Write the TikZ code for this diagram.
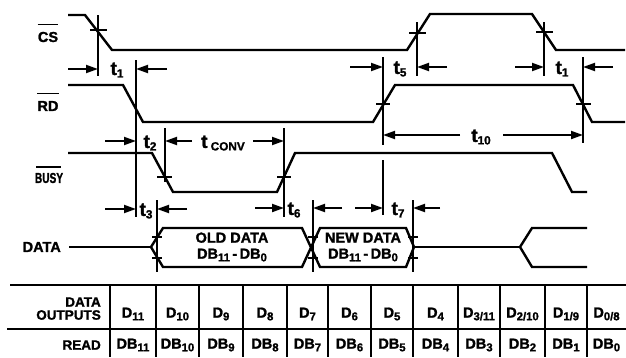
\documentclass[tikz,border=0pt]{standalone}
\usepackage{fontspec}
\setmainfont{Liberation Sans}[BoldFeatures={FakeBold=1.5}]
\usetikzlibrary{arrows.meta}
\newcommand{\sbs}[1]{\raisebox{-0.35ex}{\scalebox{0.78}{#1}}}
\newcommand{\tsb}[1]{\raisebox{-0.25ex}{\scalebox{0.62}{#1}}}
\begin{document}
\begin{tikzpicture}[x=1pt,y=-1pt,
  sig/.style={line width=2.4pt},
  tick/.style={line width=1.3pt},
  dim/.style={line width=1.9pt,-{Triangle[length=12pt,width=8pt]}},
  lbl/.style={font=\fontsize{14.5}{14.5}\selectfont\bfseries,inner sep=0pt},
  tlbl/.style={font=\fontsize{19}{19}\selectfont\bfseries,inner sep=0pt},
  dlbl/.style={font=\fontsize{14.5}{16}\selectfont\bfseries,inner sep=0pt,align=center},
  cell/.style={font=\fontsize{14.5}{14.5}\selectfont\bfseries,inner sep=0pt},
  rowl/.style={font=\fontsize{13.5}{13.5}\selectfont\bfseries,inner sep=0pt,anchor=east},
  tab/.style={line width=1.7pt}]
\useasboundingbox (0,0) rectangle (626,357);

% ---- signal labels ----
\node[lbl] (cs) at (48,37) {CS};
\node[lbl] (rd) at (48,106) {RD};
\node[lbl,xscale=0.7] (busy) at (49,178) {BUSY};
\node[lbl,anchor=east] (data) at (61,247) {DATA};
\draw[tick] ([yshift=7pt]cs.north west) -- ([yshift=7pt]cs.north east);
\draw[tick] ([yshift=7pt]rd.north west) -- ([yshift=7pt]rd.north east);
\draw[tick] (36,167) -- (61,167);

% ---- waveforms ----
\draw[sig] (68,15) -- (85,15) -- (112,50) -- (407,50) -- (430,14) -- (532,14) -- (556,50) -- (625,50);
\draw[sig] (68,85) -- (123,85) -- (143,122) -- (373,122) -- (395,85) -- (573,85) -- (592,122) -- (625,122);
\draw[sig] (68,153) -- (152,153) -- (173,192) -- (277,192) -- (295,153) -- (552,153) -- (572,192) -- (587,192);
\draw[sig] (data.east) ++(8,0) -- (151,247);
\draw[sig] (151,247) -- (163,228) -- (302,228) -- (320,267) -- (406,267) -- (414,247)
  -- (406,228) -- (320,228) -- (302,267) -- (163,267) -- cycle;
\draw[sig] (414,247) -- (520,247);
\draw[sig] (587,228) -- (532,228) -- (520,247) -- (532,267) -- (587,267);

% ---- reference ticks ----
\draw[tick] (98,15) -- (98,76);  \draw[tick] (90,30) -- (107,30);
\draw[tick] (417,22) -- (417,76); \draw[tick] (409,33) -- (426,33);
\draw[tick] (544,22) -- (544,76); \draw[tick] (536,32) -- (553,32);
\draw[tick] (136,60) -- (136,217);
\draw[tick] (383,57) -- (383,145); \draw[tick] (383,160) -- (383,215);
\draw[tick] (376,104) -- (390,104);
\draw[tick] (583,57) -- (583,143); \draw[tick] (576,104) -- (591,104);
\draw[tick] (165,128) -- (165,182); \draw[tick] (157,177) -- (172,177);
\draw[tick] (284,128) -- (284,217); \draw[tick] (277,177) -- (291,177);
\draw[tick] (157,200) -- (157,272);
\draw[tick] (152,237) -- (162,237); \draw[tick] (152,258) -- (162,258);
\draw[tick] (313,200) -- (313,272);
\draw[tick] (308,237) -- (318,237); \draw[tick] (308,258) -- (318,258);
\draw[tick] (413,200) -- (413,272);
\draw[tick] (408,237) -- (418,237); \draw[tick] (408,258) -- (418,258);

% ---- dimension arrows ----
\coordinate (t1a) at (68,69);   \coordinate (t1b) at (98,69);
\coordinate (t1c) at (167,69);  \coordinate (t1d) at (136,69);
\draw[dim] (t1a) -- (t1b); \draw[dim] (t1c) -- (t1d);
\node[tlbl] (t1) at (117,70) {t\tsb{1}};

\coordinate (t5a) at (350,67);  \coordinate (t5b) at (383,67);
\coordinate (t5c) at (447,67);  \coordinate (t5d) at (417,67);
\draw[dim] (t5a) -- (t5b); \draw[dim] (t5c) -- (t5d);
\node[tlbl] (t5) at (400,69) {t\tsb{5}};

\coordinate (t1e) at (515,67);  \coordinate (t1f) at (544,67);
\coordinate (t1g) at (613,67);  \coordinate (t1h) at (583,67);
\draw[dim] (t1e) -- (t1f); \draw[dim] (t1g) -- (t1h);
\node[tlbl] (t1r) at (562,69) {t\tsb{1}};

\coordinate (t10a) at (460,135); \coordinate (t10b) at (383,135);
\coordinate (t10c) at (503,135); \coordinate (t10d) at (583,135);
\draw[dim] (t10a) -- (t10b); \draw[dim] (t10c) -- (t10d);
\node[tlbl] (t10) at (481,137) {t\tsb{10}};

\coordinate (t2a) at (105,141); \coordinate (t2b) at (136,141);
\draw[dim] (t2a) -- (t2b);
\node[tlbl] (t2) at (150,143) {t\tsb{2}};

\coordinate (tca) at (192,141); \coordinate (tcb) at (165,141);
\coordinate (tcc) at (253,141); \coordinate (tcd) at (284,141);
\draw[dim] (tca) -- (tcb); \draw[dim] (tcc) -- (tcd);
\node[tlbl] (tconv) at (223,143) {t\,\tsb{CONV}};

\coordinate (t3a) at (105,209); \coordinate (t3b) at (136,209);
\coordinate (t3c) at (187,209); \coordinate (t3d) at (157,209);
\draw[dim] (t3a) -- (t3b); \draw[dim] (t3c) -- (t3d);
\node[tlbl] (t3) at (146,211) {t\tsb{3}};

\coordinate (t6a) at (255,208); \coordinate (t6b) at (284,208);
\coordinate (t6c) at (342,208); \coordinate (t6d) at (313,208);
\draw[dim] (t6a) -- (t6b); \draw[dim] (t6c) -- (t6d);
\node[tlbl] (t6) at (294,210) {t\tsb{6}};

\coordinate (t7a) at (355,208); \coordinate (t7b) at (383,208);
\coordinate (t7c) at (440,208); \coordinate (t7d) at (413,208);
\draw[dim] (t7a) -- (t7b); \draw[dim] (t7c) -- (t7d);
\node[tlbl] (t7) at (398,210) {t\tsb{7}};

% ---- data contents ----
\node[dlbl] (old) at (232,247) {OLD DATA\\DB\sbs{11}\,-\,DB\sbs{0}};
\node[dlbl] (new) at (363,247) {NEW DATA\\DB\sbs{11}\,-\,DB\sbs{0}};

% ---- table ----
\draw[tab] (10,285) -- (626,285);
\draw[tab] (7,329) -- (626,329);
\foreach \x in {110,156,199,243,287,328,371,413,458,500,545,587}
  \draw[tab] (\x,285) -- (\x,357);
\node[rowl] (r1a) at (101,302) {DATA};
\node[rowl] (r1b) at (101,315) {OUTPUTS};
\node[rowl] (r2) at (101,345) {READ};
\foreach \l/\r/\d/\b [count=\i] in {110/156/11/11,156/199/10/10,199/243/9/9,243/287/8/8,287/328/7/7,328/371/6/6,371/413/5/5,413/458/4/4,458/500/3\slash 11/3,500/545/2\slash 10/2,545/587/1\slash 9/1,587/626/0\slash 8/0}{
  \node[cell] (do\i) at ({(\l+\r)/2},314) {D\sbs{\d}};
  \node[cell] (rd\i) at ({(\l+\r)/2},345) {DB\sbs{\b}};
}
\end{tikzpicture}
\end{document}
